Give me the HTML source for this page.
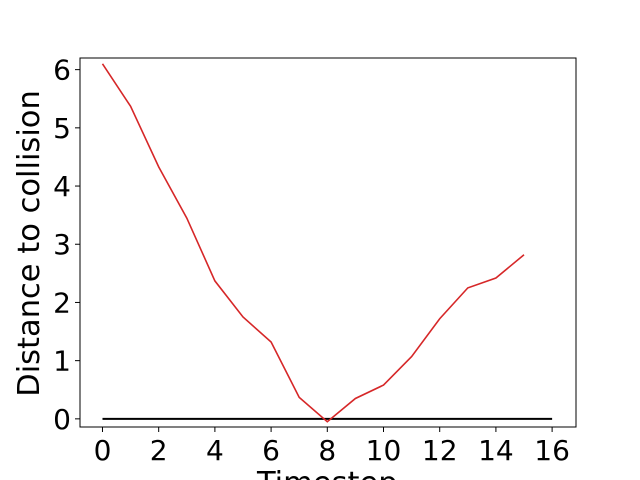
<!DOCTYPE html>
<html><head><meta charset="utf-8"><style>body{margin:0;background:#fff}svg{display:block}text{font-family:"DejaVu Sans","Liberation Sans",sans-serif;fill:#000}</style></head>
<body>
<svg id="c" width="640" height="480" viewBox="0 0 640 480" xmlns="http://www.w3.org/2000/svg"></svg>
<script>
const timesteps=[0,1,2,3,4,5,6,7,8,9,10,11,12,13,14,15];
const distances=[6.1,5.37,4.33,3.45,2.37,1.75,1.32,0.37,-0.05,0.35,0.58,1.07,1.72,2.25,2.42,2.82];
const xTicks=[0,2,4,6,8,10,12,14,16];
const yTicks=[0,1,2,3,4,5,6];
const baseline=[0,16];
const L=80,R=576,T=58,B=427;
const X0=-0.8,X1=16.85,Y0=-0.14,Y1=6.2;
const sx=v=>L+(v-X0)/(X1-X0)*(R-L);
const sy=v=>B-(v-Y0)/(Y1-Y0)*(B-T);
const svg=document.getElementById('c');
const NS='http://www.w3.org/2000/svg';
function mk(tag,attrs,parent){const e=document.createElementNS(NS,tag);for(const k in attrs)e.setAttribute(k,attrs[k]);(parent||svg).appendChild(e);return e;}
let e;
e=mk('line',{x1:sx(baseline[0]),x2:sx(baseline[1]),y1:sy(0),y2:sy(0),stroke:'#000','stroke-width':2});


e=mk('polyline',{points:timesteps.map((t,i)=>sx(t)+','+sy(distances[i])).join(' '),fill:'none',stroke:'#d62728','stroke-width':1.6});


e=mk('rect',{x:L,y:T,width:R-L,height:B-T,fill:'none',stroke:'#000','stroke-width':1});


xTicks.forEach(v=>{
 e=mk('line',{x1:sx(v),x2:sx(v),y1:B,y2:B+5,stroke:'#000'});
 
 
 e=mk('text',{x:sx(v),y:460,'text-anchor':'middle','font-size':28});e.textContent=v;
 
 
});
yTicks.forEach(v=>{
 e=mk('line',{x1:L-5,x2:L,y1:sy(v),y2:sy(v),stroke:'#000'});
 
 
 e=mk('text',{x:L-9,y:sy(v)+10,'text-anchor':'end','font-size':28});e.textContent=v;
 
 
});
e=mk('text',{x:sx(8),y:493,'text-anchor':'middle','font-size':30.5});e.textContent='Timestep';


e=mk('text',{x:0,y:0,'text-anchor':'middle','font-size':30.5,transform:'translate(39,'+((T+B)/2+1)+') rotate(-90)'});e.textContent='Distance to collision';


</script>
</body></html>
